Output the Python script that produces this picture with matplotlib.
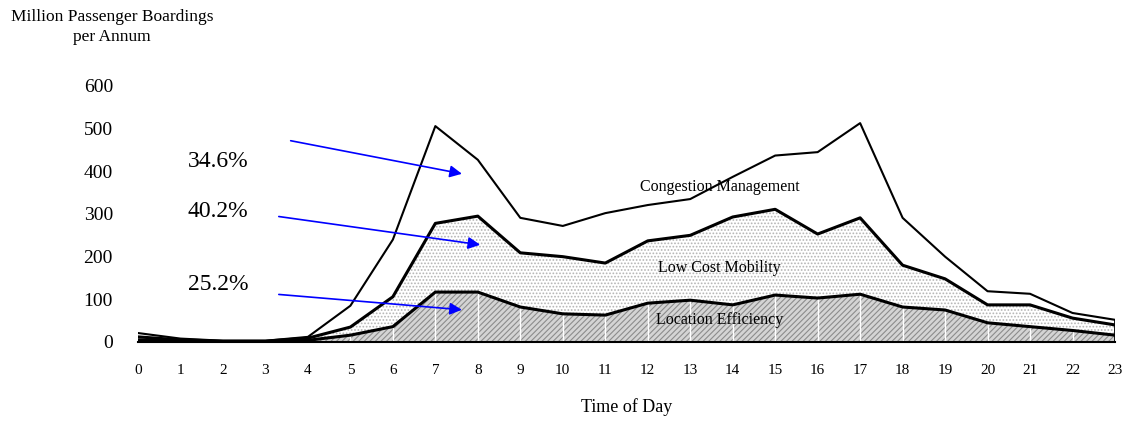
import numpy as np
import matplotlib.pyplot as plt

plt.rcParams['font.family'] = ['Liberation Serif', 'DejaVu Serif']
plt.rcParams['hatch.linewidth'] = 0.8

# Hourly boardings (million per annum) by policy component
hours = np.arange(24)
location = [5, 2, 1, 1, 4, 16, 36, 117, 117, 82, 66, 63, 91, 98, 87, 110, 103, 112, 82, 75, 45, 36, 27, 16]
low_cost = [7, 3, 1, 1, 5, 19, 70, 161, 178, 127, 134, 122, 146, 152, 206, 201, 150, 179, 98, 73, 42, 51, 29, 24]
congestion = [9, 3, 1, 1, 3, 50, 134, 228, 132, 82, 72, 117, 84, 85, 94, 126, 192, 222, 111, 52, 32, 26, 12, 12]
shares = ['34.6%', '40.2%', '25.2%']
area_names = ['Congestion Management', 'Low Cost Mobility', 'Location Efficiency']

bottom = np.array(location)
middle = bottom + np.array(low_cost)
top = middle + np.array(congestion)

fig = plt.figure(figsize=(11.27, 4.21), dpi=100)
ax = fig.add_axes([138 / 1127, 79 / 421, 977 / 1127, 256 / 421])

ax.fill_between(hours, 0, bottom, facecolor='#d4d4d4', edgecolor='#8c8c8c',
                hatch='//////', linewidth=0)
# white gridlines only show through the hatched area
ax.vlines(hours[1:-1], 0, bottom[1:-1], colors='white', lw=1)
ax.fill_between(hours, bottom, middle, facecolor='white', edgecolor='#b4b4b4',
                hatch='.....', linewidth=0)
ax.plot(hours, top, color='black', lw=1.5)
ax.plot(hours, middle, color='black', lw=2.2)
ax.plot(hours, bottom, color='black', lw=2.2)
ax.plot([23, 23], [0, top[-1]], color='black', lw=2)

ax.set_xlim(0, 23)
ax.set_ylim(0, 600)
ax.set_xticks(hours)
ax.set_yticks(np.arange(0, 601, 100))
ax.tick_params(axis='x', length=0, pad=16, labelsize=11)
ax.tick_params(axis='y', length=0, pad=18, labelsize=14)
for s in ['top', 'right', 'left']:
    ax.spines[s].set_visible(False)
ax.spines['bottom'].set_linewidth(1.5)

ax.set_xlabel('Time of Day', fontsize=13, labelpad=15)
fig.text(112 / 1127, 1 - 27 / 421, 'Million Passenger Boardings\nper Annum',
         ha='center', va='center', fontsize=12.5, linespacing=1.4)

# share labels with blue arrows
text_pos = [(1.88, 422), (1.88, 305), (1.88, 134)]
arrows = [((3.53, 473), (7.69, 393)), ((3.25, 295), (8.12, 227)), ((3.25, 112), (7.69, 75))]
for s, tp, (a0, a1) in zip(shares, text_pos, arrows):
    ax.text(tp[0], tp[1], s, ha='center', va='center', fontsize=17)
    ax.annotate('', xy=a1, xytext=a0,
                arrowprops=dict(arrowstyle='-|>', color='blue', lw=1.2,
                                mutation_scale=18))

name_pos = [(13.69, 363), (13.69, 173), (13.69, 52)]
for n, p in zip(area_names, name_pos):
    ax.text(p[0], p[1], n, ha='center', va='center', fontsize=11.5)

fig.savefig('out.png', dpi=100)
